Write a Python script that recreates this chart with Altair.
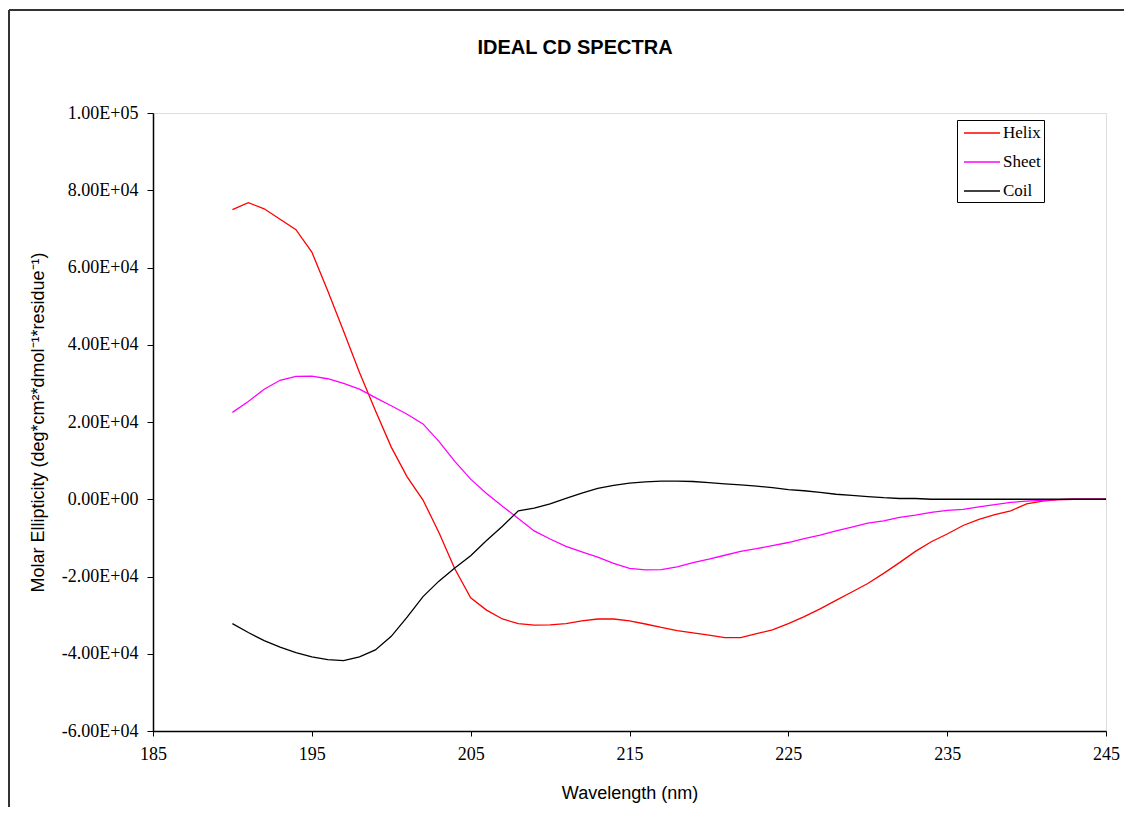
import altair as alt
import pandas as pd

wavelength = list(range(190, 246))

helix = [75000, 76800, 75200, 72500, 69800, 64000, 54000, 43500, 32800, 23000,
         13500, 5800, -200, -8600, -18000, -25500, -28700, -31000, -32200, -32600,
         -32500, -32200, -31500, -31000, -31000, -31500, -32300, -33200, -34000, -34600,
         -35200, -35800, -35800, -34800, -33800, -32200, -30400, -28400, -26200, -24000,
         -21800, -19200, -16400, -13500, -11000, -9000, -6800, -5200, -4000, -3000,
         -1200, -500, -100, 0, 0, 0]

sheet = [22500, 25300, 28500, 30800, 31800, 31900, 31200, 30000, 28500, 26300,
         24200, 22000, 19500, 15000, 9800, 5200, 1500, -1800, -5000, -8200,
         -10300, -12200, -13600, -15000, -16600, -17900, -18300, -18200, -17500, -16400,
         -15500, -14500, -13500, -12800, -12000, -11200, -10200, -9300, -8200, -7200,
         -6200, -5600, -4700, -4100, -3400, -2900, -2600, -2000, -1400, -800,
         -500, -300, -100, 0, 0, 0]

coil = [-32200, -34500, -36600, -38300, -39700, -40800, -41500, -41800, -40800, -39000,
        -35500, -30500, -25200, -21200, -17800, -14600, -10700, -7000, -3000, -2300,
        -1200, 200, 1600, 2800, 3600, 4200, 4500, 4700, 4700, 4600,
        4300, 4000, 3700, 3400, 3000, 2500, 2200, 1800, 1300, 1000,
        700, 400, 200, 200, 0, 0, 0, 0, 0, 0,
        0, 0, 0, 0, 0, 0]

series_names = ["Helix", "Sheet", "Coil"]
series_colors = ["#FF0000", "#FF00FF", "#000000"]
x_ticks = [185, 195, 205, 215, 225, 235, 245]
y_ticks = [-60000, -40000, -20000, 0, 20000, 40000, 60000, 80000, 100000]

rows = []
for name, vals in zip(series_names, [helix, sheet, coil]):
    for w, v in zip(wavelength, vals):
        rows.append({"Wavelength": w, "Value": v, "Series": name})
df = pd.DataFrame(rows)

W, H = 953, 618

label_expr = (
    "datum.value == 0 ? '0.00E+00' : "
    "(datum.value < 0 ? '-' : '') + "
    "format(abs(datum.value) / pow(10, floor(log(abs(datum.value)) / LN10 + 1e-9)), '.2f') + 'E+' + "
    "format(floor(log(abs(datum.value)) / LN10 + 1e-9), '02d')"
)

lines = alt.Chart(df).mark_line(strokeWidth=1.3, clip=False).encode(
    x=alt.X("Wavelength:Q",
            scale=alt.Scale(domain=[185, 245], nice=False, zero=False),
            axis=alt.Axis(values=x_ticks, format="d", grid=False, labelFlush=False,
                          domainColor="black", domainWidth=1.5, tickColor="black", tickSize=5,
                          labelFont="Liberation Serif", labelFontSize=18, labelColor="black",
                          labelPadding=9,
                          title="Wavelength (nm)", titleFont="Liberation Sans",
                          titleFontSize=18, titleFontWeight="normal", titleColor="black",
                          titleY=62, titleBaseline="middle")),
    y=alt.Y("Value:Q",
            scale=alt.Scale(domain=[-60000, 100000], nice=False, zero=False),
            axis=alt.Axis(values=y_ticks, labelExpr=label_expr, grid=False,
                          domainColor="black", domainWidth=1.5, tickColor="black", tickSize=6,
                          labelFont="Liberation Serif", labelFontSize=18, labelColor="black",
                          labelPadding=9,
                          title="Molar Ellipticity (deg*cm²*dmol⁻¹*residue⁻¹)",
                          titleFont="Liberation Sans", titleFontSize=18,
                          titleFontWeight="normal", titleColor="black",
                          titleAngle=-90, titleX=-115, titleY=H / 2,
                          titleAlign="center", titleBaseline="middle")),
    color=alt.Color("Series:N",
                    scale=alt.Scale(domain=series_names, range=series_colors),
                    sort=series_names,
                    legend=alt.Legend(orient="none", legendX=804, legendY=7, title=None,
                                      symbolType="M-2,0H2", symbolSize=324,
                                      symbolStrokeWidth=1.3, symbolOffset=12,
                                      labelFont="Liberation Serif", labelFontSize=17,
                                      labelColor="black", labelOffset=11,
                                      strokeColor="black", fillColor="white",
                                      padding=3, rowPadding=11)),
)

title_df = pd.DataFrame({"t": ["IDEAL CD SPECTRA"]})
title = alt.Chart(title_df).mark_text(
    font="Liberation Sans", fontSize=20, fontWeight="bold", color="black",
    align="center", baseline="middle"
).encode(text="t:N", x=alt.value(422), y=alt.value(-65))

frame_df = pd.DataFrame({"k": [0]})
left_border = alt.Chart(frame_df).mark_rule(color="#333333", strokeWidth=2, clip=False).encode(
    x=alt.value(-144), y=alt.value(-103), y2=alt.value(700))
top_border = alt.Chart(frame_df).mark_rule(color="#333333", strokeWidth=2, clip=False).encode(
    x=alt.value(-144), x2=alt.value(1000), y=alt.value(-103))

chart = alt.layer(lines, title, left_border, top_border).properties(
    width=W, height=H,
    autosize=alt.AutoSizeParams(type="none"),
    padding={"left": 145, "top": 105, "right": 18, "bottom": 76},
).configure_view(stroke="#808080", strokeWidth=1.3).configure(background="white")

chart.save("out.html", embed_options={"renderer": "svg", "actions": False})
